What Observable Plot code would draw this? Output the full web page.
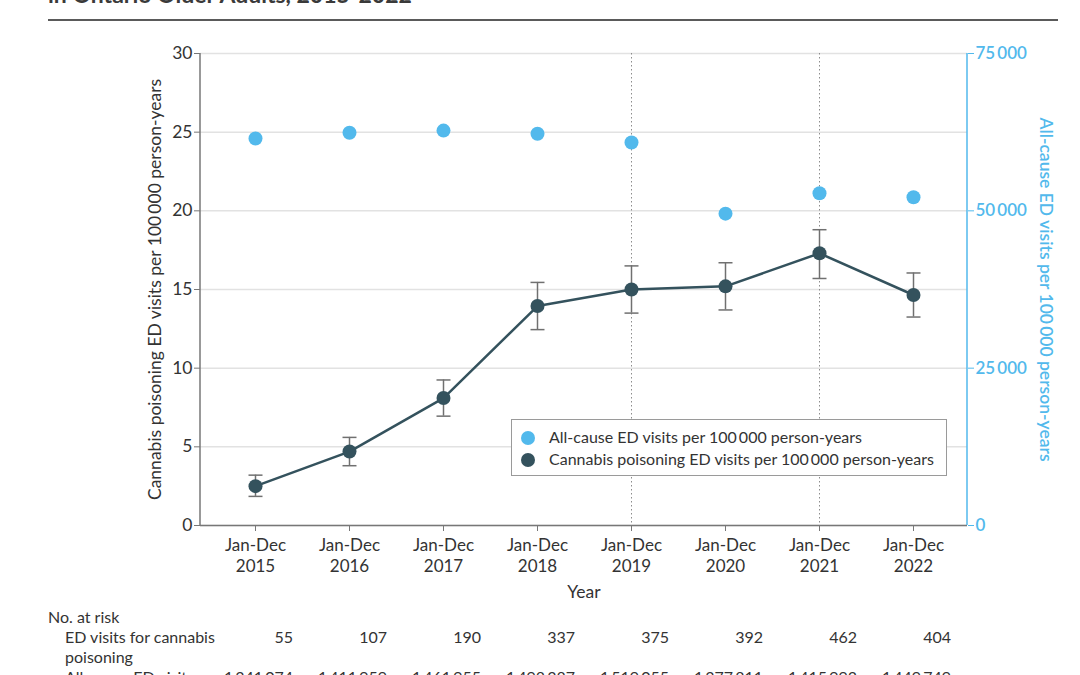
<!DOCTYPE html>
<html><head><meta charset="utf-8">
<script src="https://cdn.jsdelivr.net/npm/d3@7"></script>
<script src="https://cdn.jsdelivr.net/npm/@observablehq/plot@0.6"></script>
<style>
html,body{margin:0;padding:0;background:#fff;overflow:hidden;width:1080px;height:675px}
body{position:relative;font-family:Lato,"Noto Sans",sans-serif;color:#333}
#title{position:absolute;left:48px;top:-20px;font-size:23px;font-weight:700;color:#3a3a3a;white-space:nowrap;line-height:28px}
#rule{position:absolute;left:48px;top:19px;width:1010px;height:0;border-top:2px solid #5a5a5a}
#chart{position:absolute;left:0;top:0}
#legend{position:absolute;left:511px;top:419px;width:434px;height:55px;border:1px solid #9a9a9a;background:#fff;font-size:16px;color:#333}
#legend .row{position:absolute;left:9px;height:20px;line-height:20px;white-space:nowrap}
#legend .sw{display:inline-block;width:14px;height:14px;border-radius:50%;vertical-align:middle;margin-right:14px;position:relative;top:-1px}
#risk{position:absolute;left:0;top:0;width:1080px;height:675px;font-family:"Lato",sans-serif;font-size:16px;color:#333}
#risk div{position:absolute;white-space:nowrap;line-height:20px}
</style></head>
<body>
<div id="title">in Ontario Older Adults, 2015-2022</div>
<div id="rule"></div>
<div id="chart"></div>
<div id="legend"></div>
<div id="risk"></div>
<script>
// ---- data ----
const years = [2015, 2016, 2017, 2018, 2019, 2020, 2021, 2022];
const cannabisRate = [2.5, 4.7, 8.1, 13.95, 15.0, 15.2, 17.3, 14.65];
const cannabisLow  = [1.85, 3.8, 6.95, 12.45, 13.5, 13.7, 15.7, 13.25];
const cannabisHigh = [3.2, 5.6, 9.25, 15.45, 16.5, 16.7, 18.8, 16.05];
const allCauseRate = [61500, 62400, 62750, 62250, 60850, 49550, 52800, 52150];
const cannabisAtRisk = [55, 107, 190, 337, 375, 392, 462, 404];
const allCauseAtRisk = [1341074, 1411959, 1461955, 1498387, 1519055, 1377811, 1415993, 1449749];
const leftTicks = [0, 5, 10, 15, 20, 25, 30];
const rightTicks = [0, 25000, 50000, 75000];
const markedYears = [2019, 2021];
const xTickPrefix = "Jan-Dec";
const leftLabel = "Cannabis poisoning ED visits per 100\u2009000 person-years";
const rightLabel = "All-cause ED visits per 100\u2009000 person-years";
const xLabel = "Year";
const legendLabels = ["All-cause ED visits per 100\u2009000 person-years", "Cannabis poisoning ED visits per 100\u2009000 person-years"];
const riskTitle = "No. at risk";
const riskRowLabels = [["ED visits for cannabis", "poisoning"], ["All-cause ED visits"]];

// ---- style ----
const blue = "#52b9ec";
const dark = "#34525d";
const factor = 75000 / 30;
const fmt = v => d3.format(",")(v).replace(/,/g, "\u2009");

const rows = years.map((y, i) => ({
  year: y, rate: cannabisRate[i], lo: cannabisLow[i], hi: cannabisHigh[i], all: allCauseRate[i] / factor
}));

// horizontal cap symbol for error bars
const capSymbol = {
  draw(context, size) {
    const w = Math.sqrt(size / Math.PI);
    context.moveTo(-w, 0);
    context.lineTo(w, 0);
  }
};

const W = 1080, H = 610;
const axisLines = (index, scales, values, dims) => {
  const g = d3.create("svg:g");
  const x0 = dims.marginLeft, x1 = dims.width - dims.marginRight;
  const y0 = dims.marginTop, y1 = dims.height - dims.marginBottom;
  g.append("line").attr("x1", x0).attr("x2", x0).attr("y1", y0).attr("y2", y1).attr("stroke", "#777").attr("stroke-width", 1.5);
  g.append("line").attr("x1", x1).attr("x2", x1).attr("y1", y0).attr("y2", y1).attr("stroke", blue).attr("stroke-width", 1.5);
  return g.node();
};

const plot = Plot.plot({
  width: W, height: H,
  marginTop: 53, marginBottom: H - 525, marginLeft: 200, marginRight: W - 967,
  style: {fontFamily: "Lato, 'Noto Sans', sans-serif", fontSize: "17px", color: "#333", background: "transparent"},
  x: {type: "point", domain: years, padding: 0.54},
  y: {domain: [0, 30]},
  marks: [
    Plot.gridY(leftTicks, {stroke: "#e2e2e2", strokeOpacity: 1, strokeWidth: 1.5}),
    Plot.ruleX(markedYears, {stroke: "#8c8c8c", strokeDasharray: "1.5,2.5", strokeWidth: 1}),
    Plot.ruleY([0], {stroke: "#777", strokeWidth: 1.5}),
    axisLines,
    Plot.axisY({ticks: leftTicks, tickSize: 6, tickPadding: 2, label: null, stroke: "#777", fill: "#333", fontSize: 17.5}),
    Plot.axisY({anchor: "right", ticks: rightTicks.map(v => v / factor), tickFormat: d => fmt(Math.round(d * factor)),
      tickSize: 6, tickPadding: 2, label: null, stroke: blue, fill: blue, fontWeight: 600, fontSize: 17}),
    Plot.axisX({tickFormat: d => `${xTickPrefix}\n${d}`, tickSize: 6, tickPadding: 4, lineHeight: 1.25, label: null, stroke: "#777", fill: "#333", fontSize: 17}),
    Plot.dot(rows, {x: "year", y: "all", r: 7, fill: blue}),
    Plot.ruleX(rows, {x: "year", y1: "lo", y2: "hi", stroke: "#707070", strokeWidth: 1.5}),
    Plot.dot(rows, {x: "year", y: "lo", r: 7, symbol: capSymbol, stroke: "#707070", strokeWidth: 1.5, fill: "none"}),
    Plot.dot(rows, {x: "year", y: "hi", r: 7, symbol: capSymbol, stroke: "#707070", strokeWidth: 1.5, fill: "none"}),
    Plot.line(rows, {x: "year", y: "rate", stroke: dark, strokeWidth: 2.5}),
    Plot.dot(rows, {x: "year", y: "rate", r: 7, fill: dark}),
    Plot.text([leftLabel], {frameAnchor: "left", rotate: -90, dx: -45, textAnchor: "middle", fill: "#333", fontSize: 17.5}),
    Plot.text([rightLabel], {frameAnchor: "right", rotate: 90, dx: 78, textAnchor: "middle", fill: blue, fontSize: 17.5, fontWeight: 600}),
    Plot.text([xLabel], {frameAnchor: "bottom", dy: 67, textAnchor: "middle", lineAnchor: "middle", fill: "#333", fontSize: 17.5})
  ]
});
document.getElementById("chart").append(plot);

// legend
const legend = document.getElementById("legend");
[[blue, legendLabels[0], 7], [dark, legendLabels[1], 29]].forEach(([c, t, top]) => {
  const r = document.createElement("div");
  r.className = "row";
  r.style.top = top + "px";
  r.innerHTML = `<span class="sw" style="background:${c}"></span>${t}`;
  legend.append(r);
});

// risk table
const xs = plot.scale("x");
const risk = document.getElementById("risk");
function addText(txt, left, top, align) {
  const d = document.createElement("div");
  d.textContent = txt;
  d.style.top = top + "px";
  if (align === "right") { d.style.right = (1080 - left) + "px"; } else { d.style.left = left + "px"; }
  risk.append(d);
}
addText(riskTitle, 48, 607);
addText(riskRowLabels[0][0], 65, 627);
addText(riskRowLabels[0][1], 65, 647);
addText(riskRowLabels[1][0], 65, 667);
years.forEach((y, i) => {
  const xr = xs.apply(y) + 38;
  addText(fmt(cannabisAtRisk[i]), xr, 627, "right");
  addText(fmt(allCauseAtRisk[i]), xr, 667, "right");
});
</script>
</body></html>
